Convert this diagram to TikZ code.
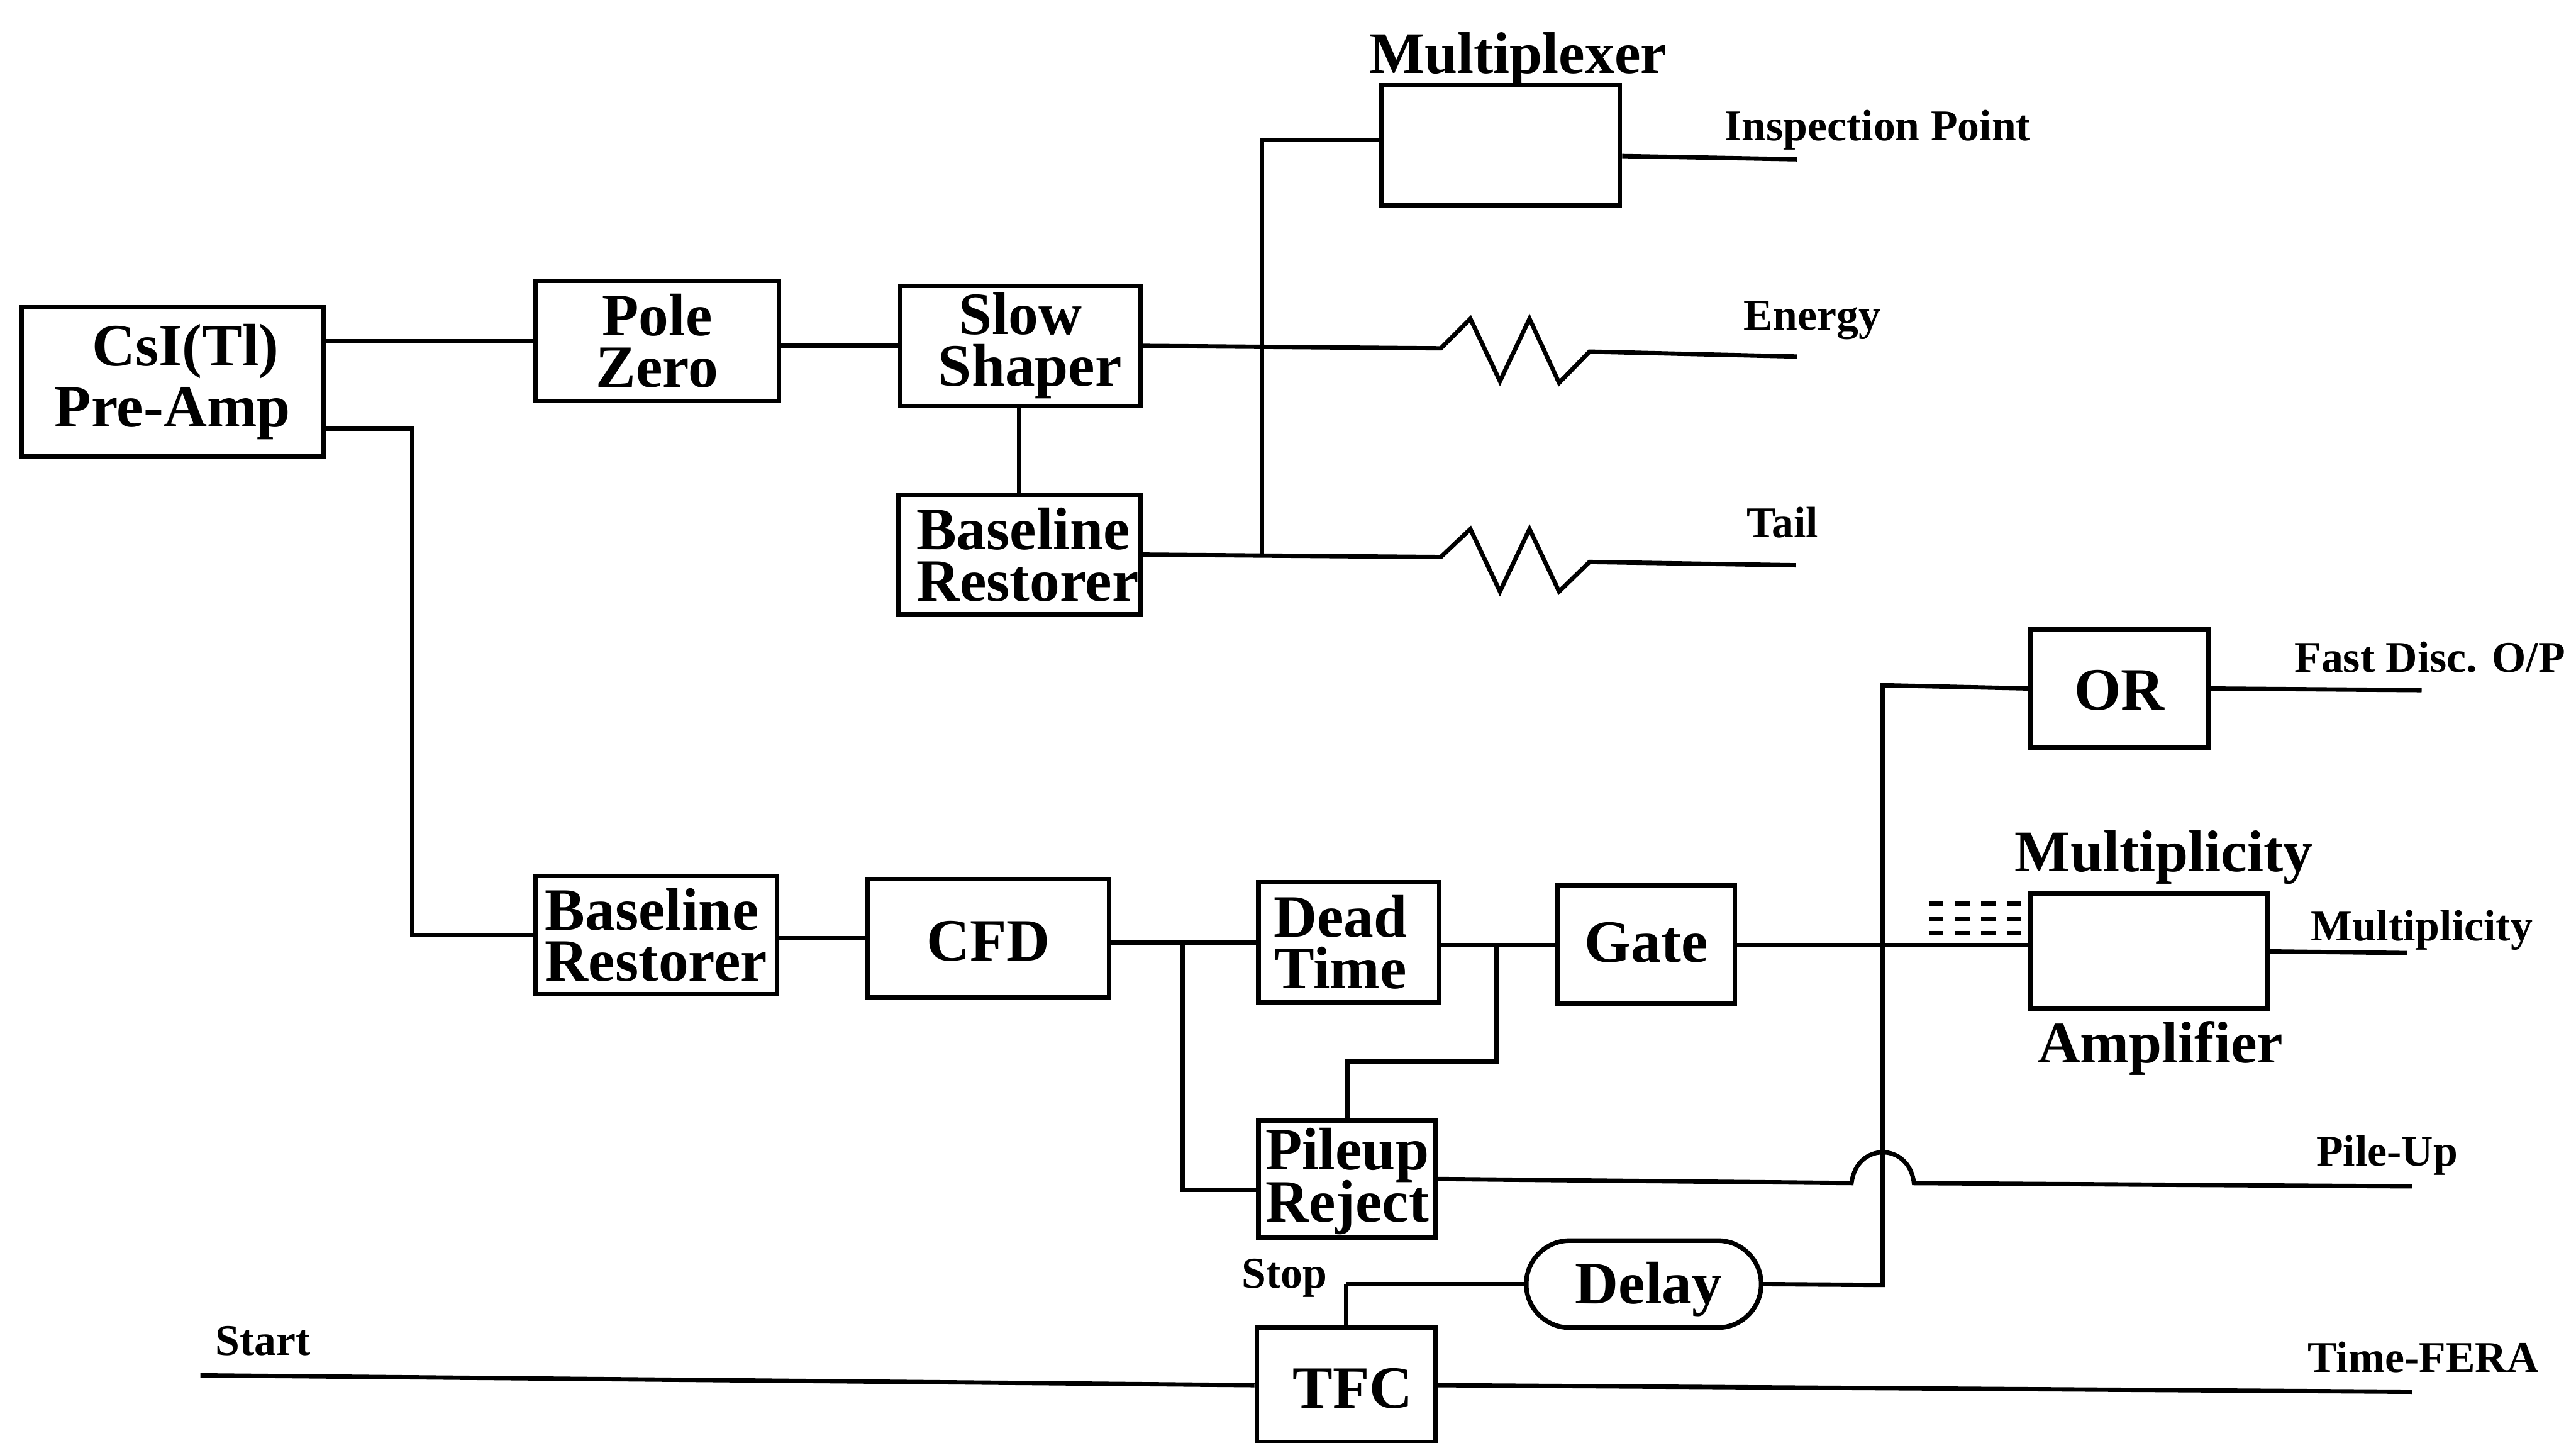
\documentclass[tikz,border=0pt]{standalone}
\usepackage{fontspec}
\setmainfont{Liberation Serif}
\usepackage{tikz}
\usetikzlibrary{shapes.misc}
\tikzstyle{blockbox} = [draw=black, fill=white, line width=0.8pt, rectangle, inner sep=0pt, align=center, font=\bfseries\fontsize{10.4}{8.9}\selectfont]
\tikzstyle{delaybox} = [draw=black, fill=white, line width=0.8pt, rounded rectangle, inner sep=0pt, font=\bfseries\fontsize{10.4}{8.9}\selectfont]
\tikzstyle{bigtitle} = [inner sep=0pt, font=\bfseries\fontsize{10.2}{10}\selectfont]
\tikzstyle{outlabel} = [inner sep=0pt, font=\bfseries\fontsize{7.6}{8}\selectfont]
\tikzstyle{wire} = [line width=0.75pt, line join=miter]

\begin{document}
\begin{tikzpicture}
\useasboundingbox (0,0) rectangle (15.68,8.78);

% upper chain
\node [blockbox, minimum width=1.84cm, minimum height=0.91cm, font=\bfseries\fontsize{10.4}{10.6}\selectfont] (csi) at (1.05,6.455) {\hspace*{0.16cm}CsI(Tl)\\Pre-Amp};
\node [blockbox, minimum width=1.48cm, minimum height=0.73cm] (pole) at (4.00,6.705) {Pole\\Zero};
\node [blockbox, minimum width=1.46cm, minimum height=0.73cm] (slow) at (6.21,6.675) {Slow\\\hspace*{0.12cm}Shaper};
\node [blockbox, minimum width=1.47cm, minimum height=0.73cm, align=left] (restoreA) at (6.205,5.405) {\hspace*{0.10cm}Baseline\\\hspace*{0.10cm}Restorer};
\node [blockbox, minimum width=1.45cm, minimum height=0.73cm] (mux) at (9.135,7.895) {};

% lower chain
\node [blockbox, minimum width=1.47cm, minimum height=0.72cm, align=left] (restoreB) at (3.995,3.09) {Baseline\\Restorer};
\node [blockbox, minimum width=1.47cm, minimum height=0.72cm] (cfd) at (6.015,3.07) {\rule{0pt}{8pt}CFD};
\node [blockbox, minimum width=1.10cm, minimum height=0.73cm] (dead) at (8.21,3.045) {Dead\hspace*{0.10cm}\\Time\hspace*{0.10cm}};
\node [blockbox, minimum width=1.08cm, minimum height=0.72cm] (gate) at (10.02,3.03) {\raisebox{0.03cm}{Gate}};
\node [blockbox, minimum width=1.08cm, minimum height=0.72cm] (or) at (12.90,4.59) {\rule{0pt}{7.6pt}OR};
\node [blockbox, minimum width=1.44cm, minimum height=0.70cm] (amp) at (13.08,2.99) {};
\node [blockbox, minimum width=1.08cm, minimum height=0.71cm] (pileup) at (8.20,1.605) {\rule{0pt}{8pt}Pileup\\[-1.4pt]Reject};
\node [delaybox, minimum width=1.43cm, minimum height=0.53cm] (delay) at (10.005,0.965) {\hspace*{0.06cm}\rule{0pt}{9pt}Delay};
\node [blockbox, minimum width=1.09cm, minimum height=0.70cm] (tfc) at (8.195,0.35) {\hspace*{0.08cm}\rule{0pt}{8pt}TFC};

% titles and output labels
\node [bigtitle] (muxtitle) at (9.24,8.42) {Multiplexer};
\node [bigtitle] (amptitle) at (13.17,3.56) {Multiplicity};
\node [bigtitle] (amptitleb) at (13.15,2.40) {Amplifier};
\node [outlabel] (lblinspect) at (11.43,7.99) {Inspection Point};
\node [outlabel] (lblenergy) at (11.03,6.83) {Energy};
\node [outlabel] (lbltail) at (10.85,5.60) {Tail};
\node [outlabel] (lblfast) at (14.79,4.78) {Fast Disc. O/P};
\node [outlabel] (lblmult) at (14.74,3.12) {Multiplicity};
\node [outlabel] (lblpile) at (14.53,1.75) {Pile-Up};
\node [outlabel] (lblfera) at (14.75,0.52) {Time-FERA};
\node [outlabel] (lblstop) at (7.82,1.00) {Stop};
\node [outlabel] (lblstart) at (1.60,0.62) {Start};

% free ends and bends
\coordinate (csitap) at (1.97,6.17);
\coordinate (lowbus) at (2.51,3.09);
\coordinate (inspectend) at (10.94,7.81);
\coordinate (energyend) at (10.94,6.61);
\coordinate (tailend) at (10.93,5.34);
\coordinate (fastend) at (14.74,4.58);
\coordinate (multend) at (14.65,2.98);
\coordinate (pileend) at (14.68,1.56);
\coordinate (feraend) at (14.68,0.31);
\coordinate (startend) at (1.22,0.41);

\draw [wire] (pole.west) -- (pole.west -| csi.east);
\draw [wire] (csitap) -- (csitap -| lowbus) -- (lowbus) -- (restoreB.west);
\draw [wire] (slow.west -| pole.east) -- (slow.west);
\draw [wire] (slow.south -| restoreA.north) -- (restoreA.north);

\draw [wire] (slow.east) -- (8.77,6.66) -- ++(0.18,0.18) -- ++(0.18,-0.38) -- ++(0.18,0.38) -- ++(0.18,-0.39) -- ++(0.185,0.19) -- (energyend);
\draw [wire] (restoreA.east) -- (8.77,5.39) -- ++(0.18,0.17) -- ++(0.18,-0.38) -- ++(0.18,0.38) -- ++(0.18,-0.38) -- ++(0.185,0.18) -- (tailend);
\draw [wire] (mux.west |- 0,7.93) -- (7.68,7.93) -- (7.68,5.40);
\draw [wire] (mux.east |- 0,7.83) -- (inspectend);

\draw [wire] (restoreB.east |- cfd.west) -- (cfd.west);
\draw [wire] (cfd.east |- dead.west) -- (dead.west);
\draw [wire] (dead.east |- gate.west) -- (gate.west);
\draw [wire] (gate.east) -- (amp.west |- gate.east);
\draw [wire] (amp.east) -- (multend);
\draw [wire] (7.20,3.05) -- (7.20,1.54) -- (pileup.west |- 0,1.54);
\draw [wire] (9.11,3.03) -- (9.11,2.32) -- (8.20,2.32) -- (pileup.north);
\draw [wire] (or.west) -- (11.46,4.61) -- (11.46,0.96) -- (delay.east);
\draw [wire] (or.east) -- (fastend);
\draw [wire] (tfc.north |- delay.west) -- (delay.west);
\draw [wire] (tfc.north) -- (tfc.north |- delay.west);
\draw [wire] (pileup.east) -- (11.27,1.58) .. controls (11.30,1.83) and (11.62,1.83) .. (11.65,1.58) -- (pileend);
\draw [wire] (startend) -- (tfc.west);
\draw [wire] (tfc.east) -- (feraend);

% bus into the amplifier
\foreach \ypos in {3.28,3.19,3.10}
  \draw [wire, dash pattern=on 0.09cm off 0.07cm] (11.74,\ypos) -- (12.30,\ypos);
\end{tikzpicture}
\end{document}
